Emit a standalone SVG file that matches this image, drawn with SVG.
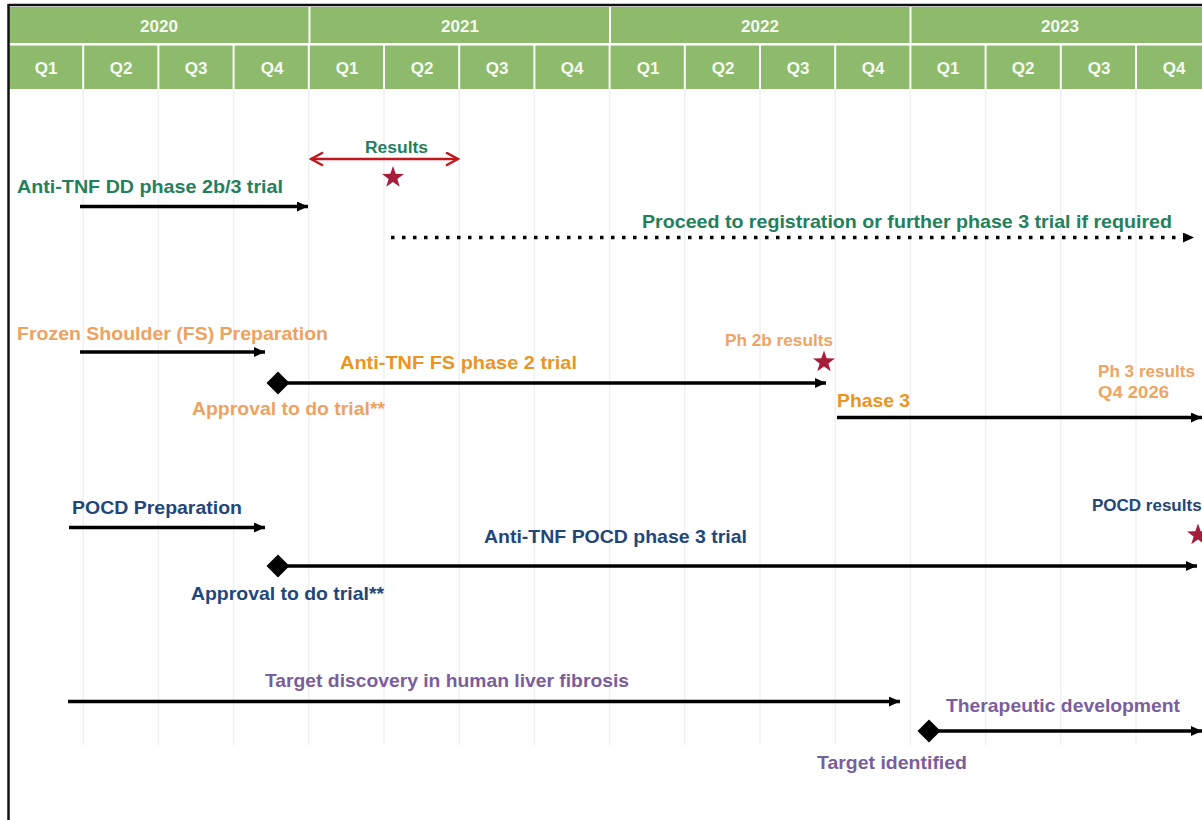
<svg xmlns="http://www.w3.org/2000/svg" width="1202" height="820" viewBox="0 0 1202 820">
<style>
  text { font-family: "Liberation Sans", Arial, sans-serif; font-weight: bold; }
  .hdr { fill: #8dbb6b; }
  .htxt { fill: #f6f9f2; font-size: 17px; text-anchor: middle; }
  .grid { stroke: #eef1f4; stroke-width: 1.5; }
  .border { stroke: #111; stroke-width: 2.5; fill: none; }
  .arrow { stroke: #000; stroke-width: 3.5; fill: none; marker-end: url(#head); }
  .ms { marker-start: url(#diamond); }
  .dotted { stroke-dasharray: 3.5 7.5; }
  .red { stroke: #c3161e; stroke-width: 2.5; fill: none; marker-start: url(#chev); marker-end: url(#chev); }
  .star { fill: #a51d3b; }
  .green { fill: #23805c; font-size: 19px; }
  .green-s { fill: #23805c; font-size: 16px; }
  .orange { fill: #eea260; font-size: 19px; }
  .orange-d { fill: #ea951f; font-size: 19px; }
  .orange-s { fill: #eea462; font-size: 17px; }
  .blue { fill: #22467a; font-size: 19px; }
  .blue-s { fill: #22467a; font-size: 17px; }
  .purple { fill: #7a5e9c; font-size: 19px; }
</style>
<defs>
  <marker id="head" markerUnits="userSpaceOnUse" markerWidth="12" markerHeight="11" refX="11" refY="5" orient="auto">
    <path d="M0,0 L11,5 L0,10 Z" fill="#000"/>
  </marker>
  <marker id="diamond" markerUnits="userSpaceOnUse" markerWidth="24" markerHeight="24" refX="12" refY="12" orient="auto">
    <path d="M0.5,12 L12,0.5 L23.5,12 L12,23.5 Z" fill="#000"/>
  </marker>
  <marker id="chev" markerUnits="userSpaceOnUse" markerWidth="16" markerHeight="16" refX="14" refY="7.5" orient="auto-start-reverse">
    <path d="M2,1 L14,7.5 L2,14" fill="none" stroke="#c3161e" stroke-width="2.5"/>
  </marker>
  <path id="starShape" d="M0,-11.5 L2.7,-3.72 L10.94,-3.55 L4.37,1.42 L6.76,9.3 L0,4.6 L-6.76,9.3 L-4.37,1.42 L-10.94,-3.55 L-2.7,-3.72 Z"/>
</defs>

<rect width="1202" height="820" fill="#fff"/>

<g id="header">
  <rect class="hdr" x="9" y="7" width="299.5" height="36"/>
  <rect class="hdr" x="310.5" y="7" width="298.5" height="36"/>
  <rect class="hdr" x="611" y="7" width="298.5" height="36"/>
  <rect class="hdr" x="911.5" y="7" width="295" height="36"/>
  <text class="htxt" x="159" y="32">2020</text>
  <text class="htxt" x="460" y="32">2021</text>
  <text class="htxt" x="760" y="32">2022</text>
  <text class="htxt" x="1060" y="32">2023</text>
  <g>
    <rect class="hdr" x="9" y="45.5" width="73.2" height="43.5"/>
    <rect class="hdr" x="84.2" y="45.5" width="73.2" height="43.5"/>
    <rect class="hdr" x="159.4" y="45.5" width="73.2" height="43.5"/>
    <rect class="hdr" x="234.6" y="45.5" width="73.2" height="43.5"/>
    <rect class="hdr" x="309.8" y="45.5" width="73.2" height="43.5"/>
    <rect class="hdr" x="385" y="45.5" width="73.2" height="43.5"/>
    <rect class="hdr" x="460.2" y="45.5" width="73.2" height="43.5"/>
    <rect class="hdr" x="535.4" y="45.5" width="73.2" height="43.5"/>
    <rect class="hdr" x="610.6" y="45.5" width="73.2" height="43.5"/>
    <rect class="hdr" x="685.8" y="45.5" width="73.2" height="43.5"/>
    <rect class="hdr" x="761" y="45.5" width="73.2" height="43.5"/>
    <rect class="hdr" x="836.2" y="45.5" width="73.2" height="43.5"/>
    <rect class="hdr" x="911.4" y="45.5" width="73.2" height="43.5"/>
    <rect class="hdr" x="986.6" y="45.5" width="73.2" height="43.5"/>
    <rect class="hdr" x="1061.8" y="45.5" width="73.2" height="43.5"/>
    <rect class="hdr" x="1137" y="45.5" width="73.2" height="43.5"/>
  </g>
  <text class="htxt" x="46" y="74">Q1</text>
  <text class="htxt" x="121" y="74">Q2</text>
  <text class="htxt" x="196" y="74">Q3</text>
  <text class="htxt" x="272" y="74">Q4</text>
  <text class="htxt" x="347" y="74">Q1</text>
  <text class="htxt" x="422" y="74">Q2</text>
  <text class="htxt" x="497" y="74">Q3</text>
  <text class="htxt" x="572" y="74">Q4</text>
  <text class="htxt" x="648" y="74">Q1</text>
  <text class="htxt" x="723" y="74">Q2</text>
  <text class="htxt" x="798" y="74">Q3</text>
  <text class="htxt" x="873" y="74">Q4</text>
  <text class="htxt" x="948" y="74">Q1</text>
  <text class="htxt" x="1023" y="74">Q2</text>
  <text class="htxt" x="1099" y="74">Q3</text>
  <text class="htxt" x="1174" y="74">Q4</text>
</g>

<g id="grid">
  <line class="grid" x1="83.2" y1="89" x2="83.2" y2="745"/>
  <line class="grid" x1="158.4" y1="89" x2="158.4" y2="745"/>
  <line class="grid" x1="233.6" y1="89" x2="233.6" y2="745"/>
  <line class="grid" x1="308.8" y1="89" x2="308.8" y2="745"/>
  <line class="grid" x1="384" y1="89" x2="384" y2="745"/>
  <line class="grid" x1="459.2" y1="89" x2="459.2" y2="745"/>
  <line class="grid" x1="534.4" y1="89" x2="534.4" y2="745"/>
  <line class="grid" x1="609.6" y1="89" x2="609.6" y2="745"/>
  <line class="grid" x1="684.8" y1="89" x2="684.8" y2="745"/>
  <line class="grid" x1="760" y1="89" x2="760" y2="745"/>
  <line class="grid" x1="835.2" y1="89" x2="835.2" y2="745"/>
  <line class="grid" x1="910.4" y1="89" x2="910.4" y2="745"/>
  <line class="grid" x1="985.6" y1="89" x2="985.6" y2="745"/>
  <line class="grid" x1="1060.8" y1="89" x2="1060.8" y2="745"/>
  <line class="grid" x1="1136" y1="89" x2="1136" y2="745"/>
</g>

<g id="frame">
  <line class="border" x1="8.5" y1="5" x2="1202" y2="5"/>
  <line class="border" x1="8.5" y1="4" x2="8.5" y2="820"/>
</g>

<g id="connectors">
  <line class="red" x1="311" y1="159" x2="458" y2="159"/>
  <line class="arrow" x1="80" y1="206.5" x2="308" y2="206.5"/>
  <line class="arrow dotted" x1="391" y1="237.5" x2="1194" y2="237.5"/>
  <line class="arrow" x1="80" y1="352" x2="265" y2="352"/>
  <line class="arrow ms" x1="278" y1="383" x2="826" y2="383"/>
  <line class="arrow" x1="837" y1="417.5" x2="1202" y2="417.5"/>
  <line class="arrow" x1="69" y1="527.5" x2="265" y2="527.5"/>
  <line class="arrow ms" x1="278" y1="566" x2="1197" y2="566"/>
  <line class="arrow" x1="68" y1="701.5" x2="900" y2="701.5"/>
  <line class="arrow ms" x1="929" y1="731" x2="1202" y2="731"/>
</g>

<g id="dd-trial">
  <text class="green" x="17" y="193" textLength="266" lengthAdjust="spacingAndGlyphs">Anti-TNF DD phase 2b/3 trial</text>
</g>
<g id="dd-results">
  <text class="green-s" x="365" y="153" textLength="63" lengthAdjust="spacingAndGlyphs">Results</text>
  <use href="#starShape" class="star" x="393" y="177.5"/>
</g>
<g id="dd-registration">
  <text class="green" x="642" y="228" textLength="530" lengthAdjust="spacingAndGlyphs">Proceed to registration or further phase 3 trial if required</text>
</g>

<g id="fs-prep">
  <text class="orange" x="17" y="340" textLength="311" lengthAdjust="spacingAndGlyphs">Frozen Shoulder (FS) Preparation</text>
</g>
<g id="fs-trial">
  <text class="orange-d" x="340" y="369" textLength="237" lengthAdjust="spacingAndGlyphs">Anti-TNF FS phase 2 trial</text>
</g>
<g id="fs-approval">
  <text class="orange" x="192" y="415" textLength="193" lengthAdjust="spacingAndGlyphs">Approval to do trial**</text>
</g>
<g id="fs-ph2b-results">
  <text class="orange-s" x="725" y="346" textLength="108" lengthAdjust="spacingAndGlyphs">Ph 2b results</text>
  <use href="#starShape" class="star" x="824" y="362"/>
</g>
<g id="fs-phase3">
  <text class="orange-d" x="837" y="407" textLength="73" lengthAdjust="spacingAndGlyphs">Phase 3</text>
</g>
<g id="fs-ph3-results">
  <text class="orange-s" x="1098" y="377" textLength="97" lengthAdjust="spacingAndGlyphs">Ph 3 results</text>
  <text class="orange-s" x="1098" y="398" textLength="71" lengthAdjust="spacingAndGlyphs">Q4 2026</text>
</g>

<g id="pocd-prep">
  <text class="blue" x="72" y="514" textLength="170" lengthAdjust="spacingAndGlyphs">POCD Preparation</text>
</g>
<g id="pocd-trial">
  <text class="blue" x="484" y="543" textLength="263" lengthAdjust="spacingAndGlyphs">Anti-TNF POCD phase 3 trial</text>
</g>
<g id="pocd-approval">
  <text class="blue" x="191" y="600" textLength="193" lengthAdjust="spacingAndGlyphs">Approval to do trial**</text>
</g>
<g id="pocd-results">
  <text class="blue-s" x="1092" y="511">POCD results</text>
  <use href="#starShape" class="star" x="1198" y="535"/>
</g>

<g id="liver-discovery">
  <text class="purple" x="265" y="687" textLength="364" lengthAdjust="spacingAndGlyphs">Target discovery in human liver fibrosis</text>
</g>
<g id="liver-therapeutic">
  <text class="purple" x="946" y="712" textLength="234" lengthAdjust="spacingAndGlyphs">Therapeutic development</text>
</g>
<g id="liver-target">
  <text class="purple" x="817" y="769" textLength="150" lengthAdjust="spacingAndGlyphs">Target identified</text>
</g>
</svg>
